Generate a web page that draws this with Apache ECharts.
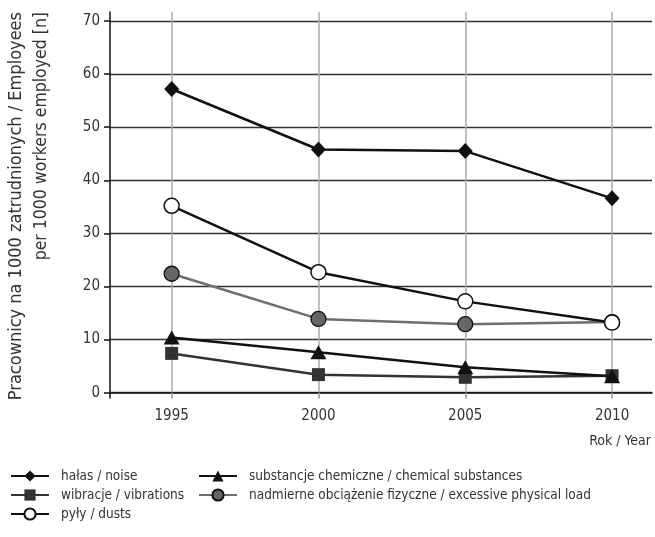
<!DOCTYPE html>
<html>
<head>
<meta charset="utf-8">
<script src="https://cdn.jsdelivr.net/npm/echarts@6/dist/echarts.min.js"></script>
<style>html,body{margin:0;padding:0;background:#fff}#c{width:655px;height:537px}</style>
</head>
<body>
<div id="c"></div>
<script>
const years = [1995, 2000, 2005, 2010];
const yTicks = [0, 10, 20, 30, 40, 50, 60, 70];
const halas = [57.2, 45.8, 45.5, 36.6];
const wibracje = [7.4, 3.4, 2.9, 3.2];
const pyly = [35.2, 22.7, 17.2, 13.2];
const substancje = [10.4, 7.6, 4.8, 3.1];
const obciazenie = [22.4, 13.9, 12.9, 13.3];
const names = ['hałas / noise', 'wibracje / vibrations', 'pyły / dusts',
  'substancje chemiczne / chemical substances', 'nadmierne obciążenie fizyczne / excessive physical load'];

const FONT = "'Liberation Sans Narrow','DejaVu Sans Condensed',sans-serif";
const TXT = '#333';
const pair = arr => years.map((y, i) => [y, arr[i]]);

const legendText = {fontFamily: FONT, fontSize: 13.5, color: TXT, padding: [0, 0, 0, 7]};

const chart = echarts.init(document.getElementById('c'), null, {renderer: 'canvas'});
chart.setOption({
  animation: false,
  backgroundColor: '#fff',
  textStyle: {fontFamily: FONT, color: TXT},
  grid: {left: 110, right: 3, top: 12, bottom: 139},
  xAxis: {
    type: 'value', min: 1992.9, max: 2011.36,
    axisLine: {onZero: true, lineStyle: {color: '#111', width: 1.5}},
    axisTick: {show: true, length: 6, customValues: years, lineStyle: {color: '#aaa', width: 1.5}},
    axisLabel: {customValues: years, formatter: v => String(v), fontFamily: FONT, fontSize: 15, color: TXT, margin: 11},
    splitLine: {show: true, lineStyle: {color: '#aaa', width: 1.5}},
    name: 'Rok / Year', nameLocation: 'end',
    nameTextStyle: {fontFamily: FONT, fontSize: 14, color: TXT, align: 'right', verticalAlign: 'top', padding: [42, 0, 0, 0]},
    nameGap: -1
  },
  yAxis: {
    type: 'value', min: -1, max: 71.7,
    axisLine: {show: true, lineStyle: {color: '#111', width: 1.5}},
    axisTick: {show: true, length: 6, customValues: yTicks, lineStyle: {color: '#111', width: 1.5}},
    axisLabel: {customValues: yTicks, fontFamily: FONT, fontSize: 15, color: TXT, margin: 10},
    splitLine: {show: true, lineStyle: {color: '#333', width: 1.3}}
  },
  legend: [
    {left: 10, top: 469, orient: 'vertical', itemWidth: 38, itemHeight: 14, itemGap: 5, padding: 0,
      data: [names[0], names[1], names[2]], textStyle: legendText},
    {left: 198, top: 469, orient: 'vertical', itemWidth: 38, itemHeight: 14, itemGap: 5, padding: 0,
      data: [names[3], names[4]], textStyle: legendText}
  ],
  series: [
    {name: names[4], type: 'line', data: pair(obciazenie), symbol: 'circle', symbolSize: 15,
      lineStyle: {color: '#6e6e6e', width: 2.5}, itemStyle: {color: '#666', borderColor: '#111', borderWidth: 1.3}, z: 2},
    {name: names[1], type: 'line', data: pair(wibracje), symbol: 'rect', symbolSize: 13,
      lineStyle: {color: '#333', width: 2.5}, itemStyle: {color: '#333'}, z: 3},
    {name: names[3], type: 'line', data: pair(substancje), symbol: 'triangle', symbolSize: [16, 14],
      lineStyle: {color: '#111', width: 2.5}, itemStyle: {color: '#111'}, z: 4},
    {name: names[2], type: 'line', data: pair(pyly), symbol: 'circle', symbolSize: 15,
      lineStyle: {color: '#111', width: 2.5}, itemStyle: {color: '#fff', borderColor: '#111', borderWidth: 1.5}, z: 5},
    {name: names[0], type: 'line', data: pair(halas), symbol: 'diamond', symbolSize: [15, 16],
      lineStyle: {color: '#111', width: 2.5}, itemStyle: {color: '#111'}, z: 6}
  ],
  graphic: [
    {type: 'text', x: 16, y: 12, rotation: Math.PI / 2,
      style: {text: 'Pracownicy na 1000 zatrudnionych / Employees', font: '18px ' + FONT, fill: TXT, align: 'right', verticalAlign: 'middle'}},
    {type: 'text', x: 41, y: 12, rotation: Math.PI / 2,
      style: {text: 'per 1000 workers employed [n]', font: '17.5px ' + FONT, fill: TXT, align: 'right', verticalAlign: 'middle'}}
  ]
});
</script>
</body>
</html>
